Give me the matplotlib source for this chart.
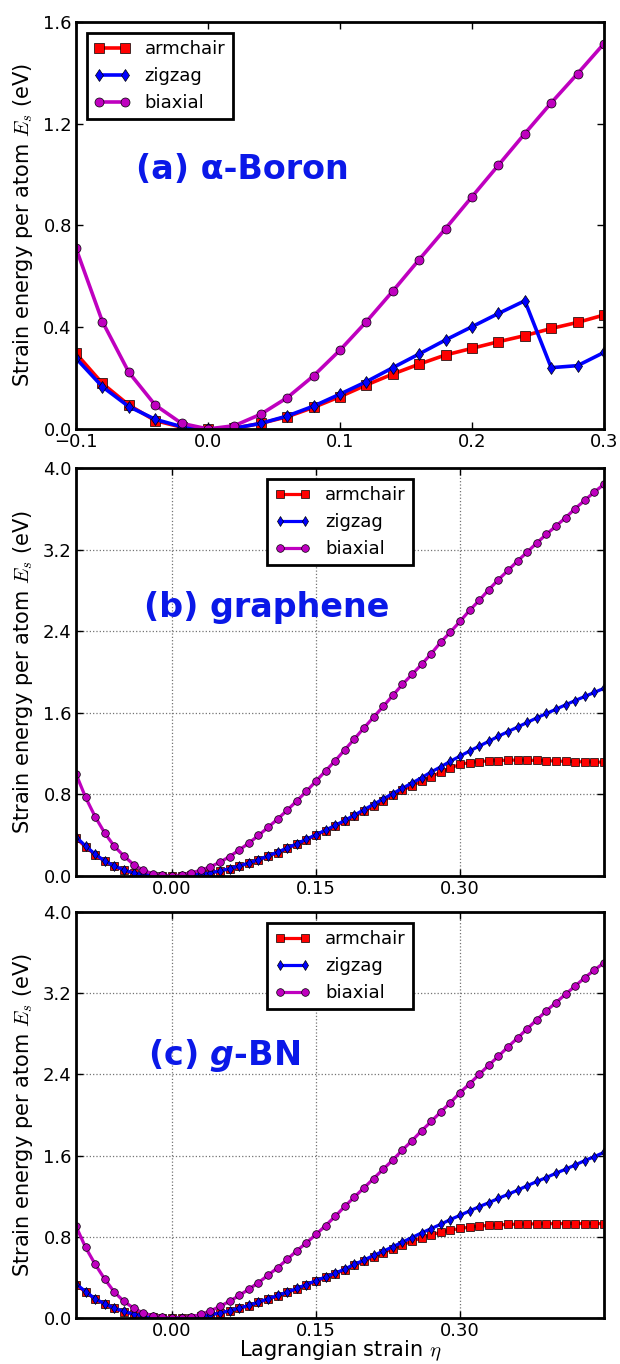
import numpy as np
import matplotlib.pyplot as plt
from matplotlib.ticker import FuncFormatter

plt.rcParams['font.family'] = ['DejaVu Sans']
plt.rcParams['mathtext.fontset'] = 'cm'

# (a) альфа-бор, шаг деформации 0.02
eta_a = [-0.10, -0.08, -0.06, -0.04, -0.02, 0.00, 0.02, 0.04, 0.06, 0.08, 0.10,
         0.12, 0.14, 0.16, 0.18, 0.20, 0.22, 0.24, 0.26, 0.28, 0.30]
arm_a = [0.297, 0.179, 0.094, 0.033, 0.007, 0.0, 0.003, 0.022, 0.048, 0.085, 0.127,
         0.173, 0.216, 0.255, 0.291, 0.317, 0.343, 0.367, 0.395, 0.419, 0.448]
zig_a = [0.278, 0.166, 0.088, 0.038, 0.009, 0.0, 0.003, 0.022, 0.051, 0.090, 0.137,
         0.186, 0.241, 0.295, 0.350, 0.402, 0.454, 0.504, 0.241, 0.249, 0.301]
bi_a = [0.710, 0.422, 0.223, 0.094, 0.022, 0.0, 0.013, 0.058, 0.123, 0.209, 0.310,
        0.422, 0.542, 0.666, 0.788, 0.913, 1.037, 1.161, 1.282, 1.397, 1.515]

# (b) графен и (c) g-BN, шаг 0.01
eta_bc = [-0.10, -0.09, -0.08, -0.07, -0.06, -0.05, -0.04, -0.03, -0.02, -0.01,
          0.00, 0.01, 0.02, 0.03, 0.04, 0.05, 0.06, 0.07, 0.08, 0.09,
          0.10, 0.11, 0.12, 0.13, 0.14, 0.15, 0.16, 0.17, 0.18, 0.19,
          0.20, 0.21, 0.22, 0.23, 0.24, 0.25, 0.26, 0.27, 0.28, 0.29,
          0.30, 0.31, 0.32, 0.33, 0.34, 0.35, 0.36, 0.37, 0.38, 0.39,
          0.40, 0.41, 0.42, 0.43, 0.44, 0.45]

arm_b = [0.370, 0.285, 0.207, 0.143, 0.095, 0.057, 0.028, 0.012, 0.004, 0.001,
         0.0, 0.002, 0.008, 0.017, 0.030, 0.049, 0.071, 0.096, 0.125, 0.157,
         0.192, 0.230, 0.270, 0.312, 0.355, 0.400, 0.445, 0.490, 0.537, 0.585,
         0.635, 0.685, 0.735, 0.790, 0.840, 0.885, 0.930, 0.975, 1.017, 1.060,
         1.093, 1.112, 1.122, 1.128, 1.132, 1.135, 1.136, 1.135, 1.133, 1.130,
         1.127, 1.124, 1.121, 1.119, 1.117, 1.115]
zig_b = [0.383, 0.294, 0.213, 0.147, 0.098, 0.059, 0.029, 0.013, 0.004, 0.001,
         0.0, 0.002, 0.008, 0.017, 0.030, 0.050, 0.072, 0.098, 0.127, 0.160,
         0.196, 0.234, 0.274, 0.316, 0.360, 0.405, 0.450, 0.496, 0.545, 0.597,
         0.650, 0.703, 0.756, 0.808, 0.860, 0.912, 0.963, 1.020, 1.070, 1.125,
         1.175, 1.225, 1.273, 1.320, 1.370, 1.415, 1.460, 1.505, 1.550, 1.593,
         1.635, 1.678, 1.720, 1.760, 1.800, 1.840]
bi_b = [1.000, 0.770, 0.580, 0.420, 0.290, 0.195, 0.112, 0.055, 0.022, 0.006,
        0.0, 0.009, 0.030, 0.056, 0.090, 0.135, 0.190, 0.255, 0.322, 0.397,
        0.476, 0.558, 0.645, 0.736, 0.830, 0.930, 1.030, 1.130, 1.237, 1.344,
        1.452, 1.557, 1.662, 1.770, 1.878, 1.976, 2.074, 2.179, 2.293, 2.391,
        2.496, 2.604, 2.702, 2.807, 2.905, 2.996, 3.088, 3.176, 3.265, 3.350,
        3.431, 3.513, 3.602, 3.683, 3.765, 3.840]

arm_c = [0.330, 0.255, 0.185, 0.137, 0.096, 0.063, 0.038, 0.020, 0.009, 0.002,
         0.0, 0.001, 0.005, 0.016, 0.032, 0.049, 0.070, 0.096, 0.122, 0.154,
         0.186, 0.219, 0.252, 0.288, 0.326, 0.364, 0.400, 0.436, 0.477, 0.520,
         0.562, 0.603, 0.643, 0.683, 0.721, 0.757, 0.790, 0.820, 0.845, 0.865,
         0.882, 0.895, 0.905, 0.913, 0.918, 0.922, 0.925, 0.927, 0.928, 0.929,
         0.930, 0.930, 0.930, 0.930, 0.930, 0.930]
zig_c = [0.336, 0.261, 0.189, 0.140, 0.098, 0.065, 0.039, 0.021, 0.009, 0.002,
         0.0, 0.001, 0.005, 0.016, 0.033, 0.050, 0.072, 0.098, 0.124, 0.157,
         0.189, 0.222, 0.255, 0.291, 0.330, 0.369, 0.405, 0.441, 0.483, 0.529,
         0.571, 0.617, 0.659, 0.702, 0.748, 0.793, 0.839, 0.881, 0.924, 0.970,
         1.012, 1.055, 1.097, 1.136, 1.179, 1.218, 1.260, 1.303, 1.345, 1.384,
         1.427, 1.466, 1.508, 1.551, 1.590, 1.632]
bi_c = [0.904, 0.695, 0.529, 0.382, 0.255, 0.163, 0.098, 0.049, 0.023, 0.008,
        0.0, 0.003, 0.014, 0.035, 0.070, 0.115, 0.165, 0.222, 0.284, 0.349,
        0.421, 0.496, 0.578, 0.663, 0.741, 0.823, 0.911, 1.002, 1.100, 1.192,
        1.283, 1.374, 1.466, 1.557, 1.655, 1.747, 1.845, 1.936, 2.031, 2.122,
        2.220, 2.308, 2.400, 2.491, 2.579, 2.671, 2.759, 2.850, 2.938, 3.026,
        3.108, 3.190, 3.271, 3.353, 3.428, 3.500]

ylabel = r'Strain energy per atom $E_s$ (eV)'
title_color = '#0a18e8'


def fmt(digits):
    # подписи с длинным минусом
    return FuncFormatter(lambda v, pos: f'{v:.{digits}f}'.replace('-', '\u2212'))


def draw(ax, x, arm, zig, bi, lw, ms, loc):
    ax.plot(x, arm, color='r', marker='s', lw=lw, ms=ms, mec='k', mew=0.5, label='armchair')
    ax.plot(x, zig, color='b', marker='d', lw=lw, ms=ms, mec='k', mew=0.5, label='zigzag')
    ax.plot(x, bi, color='m', marker='o', lw=lw, ms=ms, mec='k', mew=0.5, label='biaxial')
    leg = ax.legend(loc=loc, fontsize=13, numpoints=2, handlelength=2,
                    fancybox=False, framealpha=1, borderaxespad=0.6)
    leg.get_frame().set_edgecolor('k')
    leg.get_frame().set_linewidth(2)
    ax.tick_params(direction='in', top=True, right=True, length=5, width=1,
                   labelsize=13, pad=3)
    for sp in ax.spines.values():
        sp.set_linewidth(2)
    ax.set_ylabel(ylabel, fontsize=15, labelpad=6)


fig = plt.figure(figsize=(6.2, 13.64), dpi=100)

# (a)
ax1 = fig.add_axes([0.1226, 0.6855, 0.8516, 0.2984])
draw(ax1, eta_a, arm_a, zig_a, bi_a, 2.6, 6.5, 'upper left')
ax1.set_xlim(-0.1, 0.3)
ax1.set_ylim(0, 1.6)
ax1.set_xticks([-0.1, 0.0, 0.1, 0.2, 0.3])
ax1.set_yticks([0.0, 0.4, 0.8, 1.2, 1.6])
ax1.xaxis.set_major_formatter(fmt(1))
ax1.yaxis.set_major_formatter(fmt(1))
ax1.text(-0.0545, 1.02, '(a) α-Boron', color=title_color, fontsize=24,
         fontweight='bold', ha='left', va='center')

# (b) и (c)
axes_bc = [fig.add_axes([0.1226, 0.3578, 0.8516, 0.2991]),
           fig.add_axes([0.1226, 0.0337, 0.8516, 0.2977])]
series_bc = [(arm_b, zig_b, bi_b), (arm_c, zig_c, bi_c)]
for ax, (arm, zig, bi) in zip(axes_bc, series_bc):
    draw(ax, eta_bc, arm, zig, bi, 2.3, 5.5, 'upper center')
    ax.set_xlim(-0.1, 0.45)
    ax.set_ylim(0, 4.0)
    ax.set_xticks([0.0, 0.15, 0.30])
    ax.set_yticks([0.0, 0.8, 1.6, 2.4, 3.2, 4.0])
    ax.xaxis.set_major_formatter(fmt(2))
    ax.yaxis.set_major_formatter(fmt(1))
    ax.grid(True, ls=':', color='0.45', lw=0.9)
    ax.set_axisbelow(True)

axes_bc[0].text(-0.029, 2.63, '(b) graphene', color=title_color, fontsize=24,
                fontweight='bold', ha='left', va='center')
axes_bc[1].text(-0.025, 2.59, r'(c) $\mathbfit{g}$-BN', color=title_color, fontsize=24,
                fontweight='bold', ha='left', va='center', math_fontfamily='dejavusans')
axes_bc[1].set_xlabel(r'Lagrangian strain $\eta$', fontsize=15, labelpad=-1)

plt.savefig('out.png', dpi=100)
